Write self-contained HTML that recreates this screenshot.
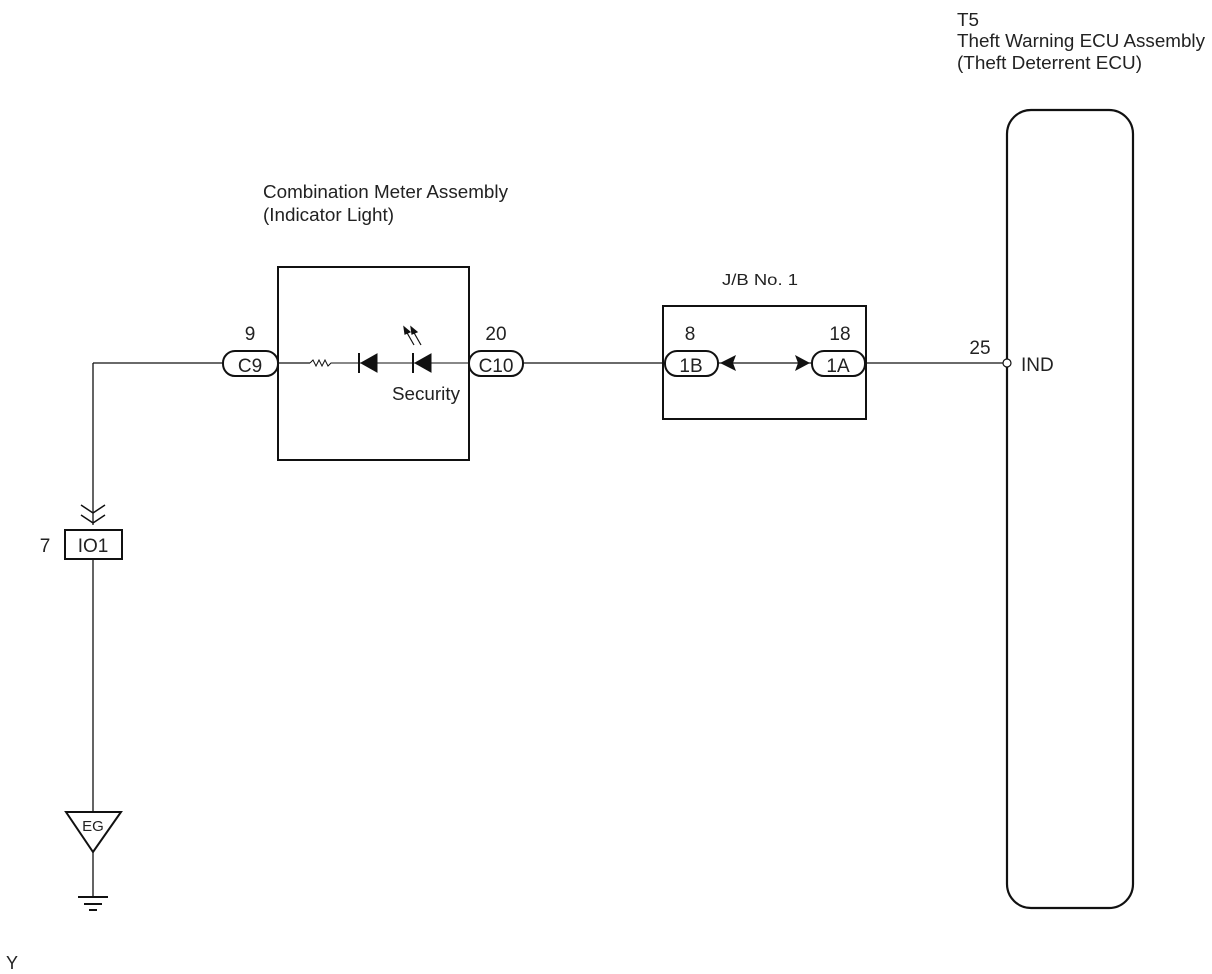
<!DOCTYPE html>
<html><head><meta charset="utf-8"><style>
html,body{margin:0;padding:0;background:#fff;}
svg{display:block;}
text{font-family:"Liberation Sans",sans-serif;fill:#222;}
</style></head><body>
<svg width="1212" height="974" viewBox="0 0 1212 974" xmlns="http://www.w3.org/2000/svg">
<g stroke="#111" fill="none" stroke-width="1.3">
<line x1="93" y1="363" x2="223" y2="363"/>
<line x1="93" y1="363" x2="93" y2="525"/>
<line x1="93" y1="559" x2="93" y2="812"/>
<line x1="93" y1="852" x2="93" y2="897"/>
<line x1="523" y1="363" x2="665" y2="363"/>
<line x1="718" y1="363" x2="812" y2="363"/>
<line x1="865" y1="363" x2="1003" y2="363"/>
<line x1="278" y1="363" x2="310" y2="363"/>
<polyline points="310,363 313,360 316,366 319,360 322,366 325,360 328,366 331,363 469,363" stroke-width="1"/>
</g>
<rect x="278" y="267" width="191" height="193" fill="none" stroke="#111" stroke-width="2"/>
<rect x="663" y="306" width="203" height="113" fill="none" stroke="#111" stroke-width="2"/>
<rect x="1007" y="110" width="126" height="798" rx="24" fill="none" stroke="#111" stroke-width="2.2"/>
<circle cx="1007" cy="363" r="4" fill="#fff" stroke="#111" stroke-width="1.2"/>
<g fill="#111" stroke="#111" stroke-width="2">
<polygon points="377,354 377,372 361,363" stroke-width="1"/>
<line x1="359" y1="353" x2="359" y2="373"/>
<polygon points="431,354 431,372 415,363" stroke-width="1"/>
<line x1="413" y1="353" x2="413" y2="373"/>
</g>
<g stroke="#111" stroke-width="1.2" fill="#111">
<line x1="414" y1="345" x2="406" y2="331"/>
<polygon points="404,327 410,332 405,334"/>
<line x1="421" y1="345" x2="413" y2="331"/>
<polygon points="411,327 417,332 412,334"/>
</g>
<g fill="#fff" stroke="#111" stroke-width="2">
<rect x="223" y="351" width="55" height="25" rx="12"/>
<rect x="469" y="351" width="54" height="25" rx="12"/>
<rect x="665" y="351" width="53" height="25" rx="12"/>
<rect x="812" y="351" width="53" height="25" rx="12"/>
</g>
<g fill="#111">
<polygon points="720,363 736,355 733,363 736,371"/>
<polygon points="810,363 795,355 798,363 795,371"/>
</g>
<g stroke="#111" stroke-width="1.5" fill="none">
<polyline points="81,505 93,513 105,505"/>
<polyline points="81,515 93,523 105,515"/>
</g>
<rect x="65" y="530" width="57" height="29" fill="#fff" stroke="#111" stroke-width="2"/>
<polygon points="66,812 121,812 93,852" fill="#fff" stroke="#111" stroke-width="2"/>
<g stroke="#111" stroke-width="2">
<line x1="78" y1="897" x2="108" y2="897"/>
<line x1="84" y1="904" x2="102" y2="904"/>
<line x1="89" y1="910" x2="97" y2="910"/>
</g>
<g font-size="19">
<text x="250" y="372" text-anchor="middle">C9</text>
<text x="496" y="372" text-anchor="middle">C10</text>
<text x="691" y="372" text-anchor="middle">1B</text>
<text x="838" y="372" text-anchor="middle">1A</text>
<text x="250" y="340" text-anchor="middle">9</text>
<text x="496" y="340" text-anchor="middle">20</text>
<text x="690" y="340" text-anchor="middle">8</text>
<text x="840" y="340" text-anchor="middle">18</text>
<text x="980" y="354" text-anchor="middle">25</text>
<text x="1021" y="371">IND</text>
<text x="93" y="552" text-anchor="middle">IO1</text>
<text x="45" y="552" text-anchor="middle">7</text>
</g>
<text x="93" y="831" text-anchor="middle" font-size="15">EG</text>
<g font-size="18">
<text x="263" y="198" textLength="245" lengthAdjust="spacingAndGlyphs">Combination Meter Assembly</text>
<text x="263" y="221" textLength="131" lengthAdjust="spacingAndGlyphs">(Indicator Light)</text>
<text x="392" y="400" textLength="68" lengthAdjust="spacingAndGlyphs">Security</text>
<text x="722" y="285" font-size="16" textLength="76" lengthAdjust="spacingAndGlyphs">J/B No. 1</text>
<text x="957" y="26" textLength="22" lengthAdjust="spacingAndGlyphs">T5</text>
<text x="957" y="47" textLength="248" lengthAdjust="spacingAndGlyphs">Theft Warning ECU Assembly</text>
<text x="957" y="69" textLength="185" lengthAdjust="spacingAndGlyphs">(Theft Deterrent ECU)</text>
<text x="6" y="969">Y</text>
</g>
</svg>
</body></html>
